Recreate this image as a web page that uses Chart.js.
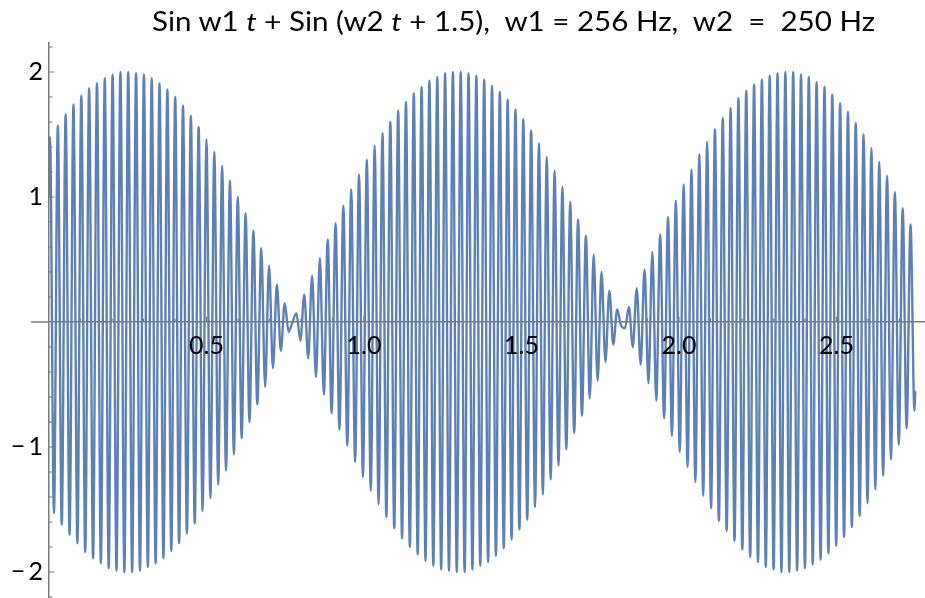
<!DOCTYPE html>
<html lang="en">
<head>
    <meta charset="UTF-8">
    <title>Beat of two sines</title>
    <style>
        body {
            margin: 0;
            background: #fff;
        }

        .wrap {
            position: relative;
            width: 925px;
            height: 598px;
        }

        #ttl {
            position: absolute;
            left: 152px;
            top: 8px;
            display: inline-block;
            font-family: Lato, "Open Sans", sans-serif;
            font-size: 26px;
            line-height: 26px;
            white-space: pre;
            color: #000;
            transform-origin: 0 0;
        }
    </style>
</head>
<body>
    <div class="wrap">
        <canvas id="myChart" width="925" height="598"></canvas>
        <div id="ttl">Sin w1 <i>t</i> + Sin (w2 <i>t</i> + 1.5),  w1 = 256 Hz,  w2  =  250 Hz</div>
    </div>

    <script src="https://cdn.jsdelivr.net/npm/chart.js"></script>
    <script>
        // time (s) of each turning point of the waveform, plus both ends
        const tSec = [
            0,
            0.0032, 0.0157, 0.0281, 0.0405, 0.0529, 0.0653, 0.0777, 0.0902, 0.1026, 0.1150,
            0.1274, 0.1398, 0.1523, 0.1647, 0.1771, 0.1895, 0.2019, 0.2143, 0.2268, 0.2392,
            0.2516, 0.2640, 0.2764, 0.2888, 0.3013, 0.3137, 0.3261, 0.3385, 0.3509, 0.3633,
            0.3758, 0.3882, 0.4006, 0.4130, 0.4254, 0.4378, 0.4503, 0.4627, 0.4751, 0.4875,
            0.4999, 0.5124, 0.5248, 0.5372, 0.5496, 0.5620, 0.5744, 0.5869, 0.5993, 0.6117,
            0.6241, 0.6365, 0.6489, 0.6614, 0.6738, 0.6862, 0.6986, 0.7110, 0.7234, 0.7359,
            0.7483, 0.7607, 0.7731, 0.7855, 0.7980, 0.8104, 0.8228, 0.8352, 0.8476, 0.8600,
            0.8725, 0.8849, 0.8973, 0.9097, 0.9221, 0.9345, 0.9470, 0.9594, 0.9718, 0.9842,
            0.9966, 1.0090, 1.0215, 1.0339, 1.0463, 1.0587, 1.0711, 1.0835, 1.0960, 1.1084,
            1.1208, 1.1332, 1.1456, 1.1581, 1.1705, 1.1829, 1.1953, 1.2077, 1.2201, 1.2326,
            1.2450, 1.2574, 1.2698, 1.2822, 1.2946, 1.3071, 1.3195, 1.3319, 1.3443, 1.3567,
            1.3691, 1.3816, 1.3940, 1.4064, 1.4188, 1.4312, 1.4437, 1.4561, 1.4685, 1.4809,
            1.4933, 1.5057, 1.5182, 1.5306, 1.5430, 1.5554, 1.5678, 1.5802, 1.5927, 1.6051,
            1.6175, 1.6299, 1.6423, 1.6547, 1.6672, 1.6796, 1.6920, 1.7044, 1.7168, 1.7292,
            1.7417, 1.7541, 1.7665, 1.7789, 1.7913, 1.8038, 1.8162, 1.8286, 1.8410, 1.8534,
            1.8658, 1.8783, 1.8907, 1.9031, 1.9155, 1.9279, 1.9403, 1.9528, 1.9652, 1.9776,
            1.9900, 2.0024, 2.0148, 2.0273, 2.0397, 2.0521, 2.0645, 2.0769, 2.0894, 2.1018,
            2.1142, 2.1266, 2.1390, 2.1514, 2.1639, 2.1763, 2.1887, 2.2011, 2.2135, 2.2259,
            2.2384, 2.2508, 2.2632, 2.2756, 2.2880, 2.3004, 2.3129, 2.3253, 2.3377, 2.3501,
            2.3625, 2.3749, 2.3874, 2.3998, 2.4122, 2.4246, 2.4370, 2.4495, 2.4619, 2.4743,
            2.4867, 2.4991, 2.5115, 2.5240, 2.5364, 2.5488, 2.5612, 2.5736, 2.5860, 2.5985,
            2.6109, 2.6233, 2.6357, 2.6481, 2.6605, 2.6730, 2.6854, 2.6978, 2.7102, 2.7226,
            2.7351, 2.7475,
            2.75
        ];

        // signal value at each of those times
        const amp = [
            1.00,
            1.48, -1.53, 1.57, -1.62, 1.66, -1.70, 1.74, -1.77, 1.81, -1.84,
            1.87, -1.89, 1.91, -1.93, 1.95, -1.97, 1.98, -1.99, 2.00, -2.00,
            2.00, -2.00, 1.99, -1.99, 1.98, -1.96, 1.95, -1.93, 1.91, -1.89,
            1.86, -1.83, 1.80, -1.77, 1.73, -1.69, 1.65, -1.61, 1.56, -1.51,
            1.46, -1.41, 1.36, -1.30, 1.25, -1.19, 1.13, -1.06, 1.00, -0.93,
            0.87, -0.80, 0.73, -0.66, 0.59, -0.52, 0.45, -0.37, 0.30, -0.23,
            0.15, -0.08, 0.00, 0.07, -0.15, 0.22, -0.29, 0.37, -0.44, 0.51,
            -0.58, 0.66, -0.73, 0.79, -0.86, 0.93, -0.99, 1.06, -1.12, 1.18,
            -1.24, 1.30, -1.35, 1.41, -1.46, 1.51, -1.56, 1.60, -1.65, 1.69,
            -1.73, 1.76, -1.80, 1.83, -1.86, 1.88, -1.91, 1.93, -1.95, 1.96,
            -1.98, 1.99, -1.99, 2.00, -2.00, 2.00, -2.00, 1.99, -1.98, 1.97,
            -1.95, 1.94, -1.92, 1.89, -1.87, 1.84, -1.81, 1.78, -1.74, 1.70,
            -1.66, 1.62, -1.58, 1.53, -1.48, 1.43, -1.38, 1.32, -1.26, 1.21,
            -1.15, 1.08, -1.02, 0.96, -0.89, 0.82, -0.75, 0.69, -0.61, 0.54,
            -0.47, 0.40, -0.32, 0.25, -0.18, 0.10, -0.03, -0.05, 0.12, -0.20,
            0.27, -0.34, 0.42, -0.49, 0.56, -0.63, 0.70, -0.77, 0.84, -0.91,
            0.97, -1.04, 1.10, -1.16, 1.22, -1.28, 1.34, -1.39, 1.44, -1.49,
            1.54, -1.59, 1.63, -1.67, 1.71, -1.75, 1.79, -1.82, 1.85, -1.88,
            1.90, -1.92, 1.94, -1.96, 1.97, -1.98, 1.99, -2.00, 2.00, -2.00,
            2.00, -1.99, 1.98, -1.97, 1.96, -1.94, 1.92, -1.90, 1.88, -1.85,
            1.82, -1.79, 1.75, -1.72, 1.68, -1.64, 1.59, -1.55, 1.50, -1.45,
            1.39, -1.34, 1.28, -1.23, 1.17, -1.10, 1.04, -0.98, 0.91, -0.85,
            0.78, -0.71,
            -0.56
        ];

        // labelled ticks
        const xTickLabels = [0.5, 1.0, 1.5, 2.0, 2.5];
        const yTickLabels = [-2, -1, 1, 2];

        const lineColor = 'rgb(94, 129, 181)';
        const axisColor = '#7a7a7a';
        const tickFont = { family: 'Lato', size: 25 };

        // squeeze the title to its box
        const ttl = document.getElementById('ttl');
        ttl.style.transform = 'scaleX(' + (723 / ttl.getBoundingClientRect().width) + ')';

        const points = tSec.map((t, i) => ({ x: t, y: amp[i] }));

        function noPadding(scale) {
            scale.paddingLeft = 0;
            scale.paddingRight = 0;
            scale.paddingTop = 0;
            scale.paddingBottom = 0;
        }

        // small inward tick marks, major every 0.5 / 1, minor between
        const axisTicks = {
            id: 'axisTicks',
            afterDraw(chart) {
                const { ctx, scales: { x, y } } = chart;
                const x0 = x.getPixelForValue(0);
                const y0 = y.getPixelForValue(0);
                ctx.save();
                ctx.strokeStyle = axisColor;
                ctx.lineWidth = 1.5;
                ctx.beginPath();
                ctx.moveTo(x0 - 18, y0);
                ctx.lineTo(x0, y0);
                ctx.stroke();
                ctx.lineWidth = 1.2;
                ctx.beginPath();
                for (let i = 1; i <= 27; i++) {
                    const px = x.getPixelForValue(i / 10);
                    const len = i % 5 === 0 ? 5.5 : 3.5;
                    ctx.moveTo(px, y0);
                    ctx.lineTo(px, y0 - len);
                }
                for (let i = -11; i <= 11; i++) {
                    if (i === 0) continue;
                    const py = y.getPixelForValue(i / 5);
                    const len = i % 5 === 0 ? 5.5 : 3.5;
                    ctx.moveTo(x0, py);
                    ctx.lineTo(x0 + len, py);
                }
                ctx.stroke();
                ctx.restore();
            }
        };

        const config = {
            type: 'line',
            data: {
                datasets: [{
                    data: points,
                    borderColor: lineColor,
                    borderWidth: 2.4,
                    borderJoinStyle: 'round',
                    borderCapStyle: 'round',
                    pointRadius: 0,
                    fill: false,
                    cubicInterpolationMode: 'monotone'
                }]
            },
            options: {
                responsive: false,
                animation: false,
                events: [],
                layout: { padding: { top: 43, left: 0, right: 0, bottom: 0 } },
                plugins: {
                    legend: { display: false },
                    title: { display: false },
                    tooltip: { enabled: false }
                },
                scales: {
                    x: {
                        type: 'linear',
                        position: { y: 0 },
                        min: 0,
                        max: 2.781,
                        grid: { display: false, drawTicks: false },
                        border: { display: true, color: axisColor, width: 1.5, z: 1 },
                        ticks: {
                            z: 1,
                            font: tickFont,
                            color: '#000',
                            padding: 9,
                            maxRotation: 0,
                            callback: (v) => v.toFixed(1)
                        },
                        afterBuildTicks: (scale) => {
                            scale.ticks = xTickLabels.map(v => ({ value: v }));
                        },
                        afterFit: noPadding
                    },
                    y: {
                        type: 'linear',
                        position: 'left',
                        min: -2.208,
                        max: 2.232,
                        grid: { display: false, drawTicks: false },
                        border: { display: true, color: axisColor, width: 1.5, z: 1 },
                        ticks: {
                            z: 1,
                            font: tickFont,
                            color: '#000',
                            padding: 6,
                            callback: (v) => (v < 0 ? '\u2212\u2009' + Math.abs(v) : String(v))
                        },
                        afterBuildTicks: (scale) => {
                            scale.ticks = yTickLabels.map(v => ({ value: v }));
                        },
                        afterFit: (scale) => {
                            scale.width = 49;
                            noPadding(scale);
                        }
                    }
                }
            },
            plugins: [axisTicks]
        };

        var myChart = new Chart(document.getElementById('myChart'), config);
    </script>
</body>
</html>
